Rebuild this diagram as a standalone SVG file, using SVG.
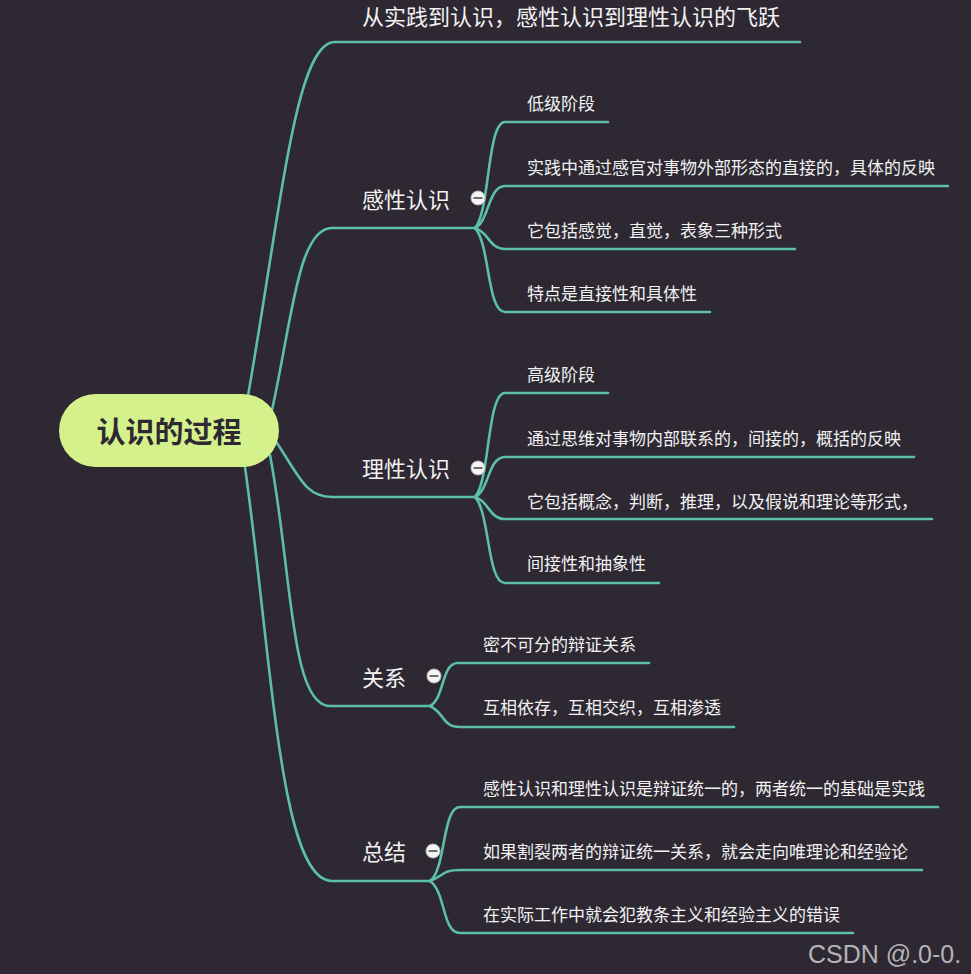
<svg xmlns="http://www.w3.org/2000/svg" width="971" height="974" viewBox="0 0 971 974">
<style>
.bg{fill:#2d2832}
.ln{fill:none;stroke:#5cbfa9;stroke-width:2.6;stroke-linecap:round}
.t1{font-family:"Noto Sans CJK SC","Noto Sans",sans-serif;font-size:22px;fill:#f2f2f2}
.t2{font-family:"Noto Sans CJK SC","Noto Sans",sans-serif;font-size:17px;fill:#f2f2f2}
.root{font-family:"Noto Sans CJK SC","Noto Sans",sans-serif;font-size:29px;font-weight:bold;fill:#2d2832}
.wm{font-family:"Liberation Sans",Arial,sans-serif;font-size:25px;fill:#b4b4b8}
</style>
<defs>
<g id="collapse">
<circle r="7" fill="#f4f4f4" stroke="#bdbdbd" stroke-width="1"/>
<line x1="-4.5" y1="0" x2="4.5" y2="0" stroke="#6e6e6e" stroke-width="2"/>
</g>
</defs>
<rect class="bg" x="0" y="0" width="971" height="974"/>

<g id="connectors">
<path class="ln" d="M248,396 C282,200 296,42 335,42 L800,42"/>
<path class="ln" d="M272,410 C292,320 298,228 332,228 L475,228"/>
<path class="ln" d="M277,443 C300,478 306,497 332,497 L475,497"/>
<path class="ln" d="M270,455 C292,570 290,706 330,706 L430,706"/>
<path class="ln" d="M245,467 C272,660 280,881 332,881 L430,881"/>
<path class="ln" d="M475,228 C490,212 487,122 505,122 L608,122"/>
<path class="ln" d="M475,228 C489,222 488,186 505,186 L948,186"/>
<path class="ln" d="M475,228 C489,232 489,249 505,249 L795,249"/>
<path class="ln" d="M475,228 C490,244 487,312 505,312 L710,312"/>
<path class="ln" d="M475,497 C490,481 487,393 505,393 L608,393"/>
<path class="ln" d="M475,497 C489,491 488,457 505,457 L914,457"/>
<path class="ln" d="M475,497 C489,501 489,519 505,519 L932,519"/>
<path class="ln" d="M475,497 C490,513 487,583 505,583 L659,583"/>
<path class="ln" d="M430,706 C445,698 441,663 458,663 L649,663"/>
<path class="ln" d="M430,706 C445,713 442,727 460,727 L734,727"/>
<path class="ln" d="M430,881 C446,870 442,807 460,807 L938,807"/>
<path class="ln" d="M430,881 C444,876 442,870 460,870 L922,870"/>
<path class="ln" d="M430,881 C446,892 442,933 460,933 L853,933"/>
</g>

<g id="root">
<rect x="59" y="394" width="220" height="73" rx="36.5" fill="#d5f18b"/>
<text class="root" x="169" y="443" text-anchor="middle">认识的过程</text>
</g>

<g id="n-top"><text class="t1" x="362" y="25">从实践到认识，感性认识到理性认识的飞跃</text></g>

<g id="n-ganxing">
<text class="t1" x="362" y="208">感性认识</text>
<use href="#collapse" x="478" y="198"/>
</g>
<g id="n-g1"><text class="t2" x="527" y="110">低级阶段</text></g>
<g id="n-g2"><text class="t2" x="527" y="174">实践中通过感官对事物外部形态的直接的，具体的反映</text></g>
<g id="n-g3"><text class="t2" x="527" y="237">它包括感觉，直觉，表象三种形式</text></g>
<g id="n-g4"><text class="t2" x="527" y="300">特点是直接性和具体性</text></g>

<g id="n-lixing">
<text class="t1" x="362" y="477">理性认识</text>
<use href="#collapse" x="478" y="468"/>
</g>
<g id="n-l1"><text class="t2" x="527" y="381">高级阶段</text></g>
<g id="n-l2"><text class="t2" x="527" y="445">通过思维对事物内部联系的，间接的，概括的反映</text></g>
<g id="n-l3"><text class="t2" x="527" y="508">它包括概念，判断，推理，以及假说和理论等形式，</text></g>
<g id="n-l4"><text class="t2" x="527" y="570">间接性和抽象性</text></g>

<g id="n-guanxi">
<text class="t1" x="362" y="686">关系</text>
<use href="#collapse" x="434" y="676"/>
</g>
<g id="n-r1"><text class="t2" x="483" y="651">密不可分的辩证关系</text></g>
<g id="n-r2"><text class="t2" x="483" y="714">互相依存，互相交织，互相渗透</text></g>

<g id="n-zongjie">
<text class="t1" x="362" y="860">总结</text>
<use href="#collapse" x="433" y="851"/>
</g>
<g id="n-z1"><text class="t2" x="483" y="795">感性认识和理性认识是辩证统一的，两者统一的基础是实践</text></g>
<g id="n-z2"><text class="t2" x="483" y="858">如果割裂两者的辩证统一关系，就会走向唯理论和经验论</text></g>
<g id="n-z3"><text class="t2" x="483" y="921">在实际工作中就会犯教条主义和经验主义的错误</text></g>

<text class="wm" x="808" y="963">CSDN @.0-0.</text>
</svg>
